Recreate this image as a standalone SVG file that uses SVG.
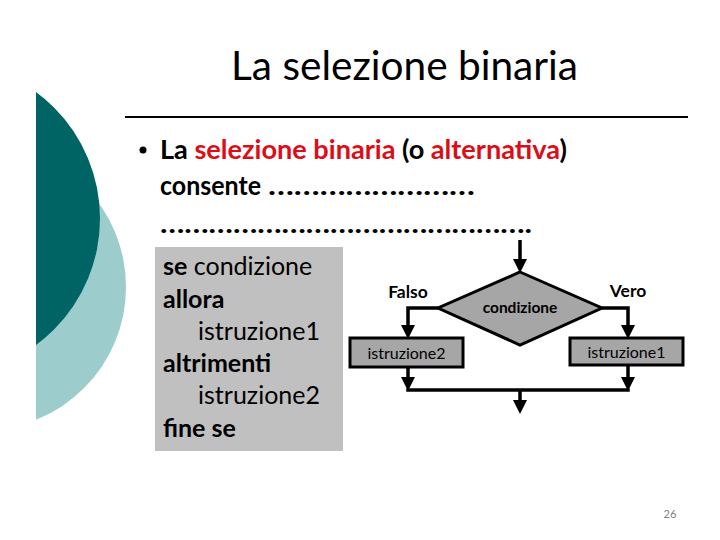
<svg xmlns="http://www.w3.org/2000/svg" width="720" height="540" viewBox="0 0 720 540">
<style>
.t{font-family:Lato,"Open Sans","Liberation Sans",sans-serif;fill:#000}
.b{font-weight:bold}
.r{fill:#dd0d18}
.conn{fill:none;stroke:#000;stroke-width:3.5;stroke-linejoin:miter}
.box{fill:#a6a6a6;stroke:#000;stroke-width:3}
.code{font-size:25px}
</style>
<defs>
<marker id="ah" viewBox="0 0 12 12" markerWidth="14" markerHeight="14" refX="6" refY="6" orient="auto" markerUnits="userSpaceOnUse">
<path d="M0,0 L12,6 L0,12 z" fill="#000"/>
</marker>
<clipPath id="cl"><rect x="36" y="0" width="200" height="540"/></clipPath>
</defs>
<rect width="720" height="540" fill="#fff"/>
<g id="decor" clip-path="url(#cl)">
<circle cx="-17" cy="287" r="143" fill="#9dcccc"/>
<circle cx="-57" cy="218.5" r="157" fill="#006464"/>
</g>
<text class="t" x="231" y="80" font-size="40" textLength="347" lengthAdjust="spacingAndGlyphs">La selezione binaria</text>
<rect x="125" y="116" width="563" height="2" fill="#000"/>
<circle cx="143" cy="150" r="3.5" fill="#000"/>
<text class="t b" x="160" y="159" font-size="27" textLength="407" lengthAdjust="spacingAndGlyphs">La <tspan class="r">selezione binaria</tspan> (o <tspan class="r">alternativa</tspan>)</text>
<text class="t b" x="160" y="195" font-size="27" textLength="101" lengthAdjust="spacingAndGlyphs">consente</text>
<text class="t b" x="268" y="195" font-size="27" textLength="207" lengthAdjust="spacingAndGlyphs">……………………</text>
<text class="t b" x="160" y="233" font-size="27" textLength="372" lengthAdjust="spacingAndGlyphs">……………………………………….</text>
<g id="code">
<rect x="155" y="247" width="188" height="204" fill="#c0c0c0"/>
<text class="t code" x="163" y="275"><tspan class="b">se</tspan> condizione</text>
<text class="t b code" x="163" y="308">allora</text>
<text class="t code" x="198" y="340">istruzione1</text>
<text class="t b code" x="163" y="372">altrimenti</text>
<text class="t code" x="198" y="404">istruzione2</text>
<text class="t b code" x="163" y="437">fine se</text>
</g>
<g id="connectors">
<path class="conn" d="M520,240 V266" marker-end="url(#ah)"/>
<path class="conn" d="M438,308 H408 V332" marker-end="url(#ah)"/>
<path class="conn" d="M602,308 H628 V332" marker-end="url(#ah)"/>
<path class="conn" d="M408,367 V384" marker-end="url(#ah)"/>
<path class="conn" d="M628,365 V384" marker-end="url(#ah)"/>
<path class="conn" d="M406.25,390 H629.75"/>
<path class="conn" d="M520,390 V407" marker-end="url(#ah)"/>
</g>
<g id="condizione">
<polygon class="box" points="520,272 602,308 520,345 438,308"/>
<text class="t b" x="520" y="313" font-size="15.5" text-anchor="middle">condizione</text>
</g>
<g id="istruzione2">
<rect class="box" x="350" y="338" width="113" height="29"/>
<text class="t" x="406.5" y="359" font-size="16" text-anchor="middle">istruzione2</text>
</g>
<g id="istruzione1">
<rect class="box" x="570" y="338" width="113" height="27"/>
<text class="t" x="626.5" y="358" font-size="16" text-anchor="middle">istruzione1</text>
</g>
<text class="t b" x="408" y="298" font-size="17.5" text-anchor="middle">Falso</text>
<text class="t b" x="628" y="297" font-size="17.5" text-anchor="middle">Vero</text>
<text x="670" y="518" font-size="11" text-anchor="middle" font-family="Lato,'Liberation Sans',sans-serif" fill="#808080">26</text>
</svg>
